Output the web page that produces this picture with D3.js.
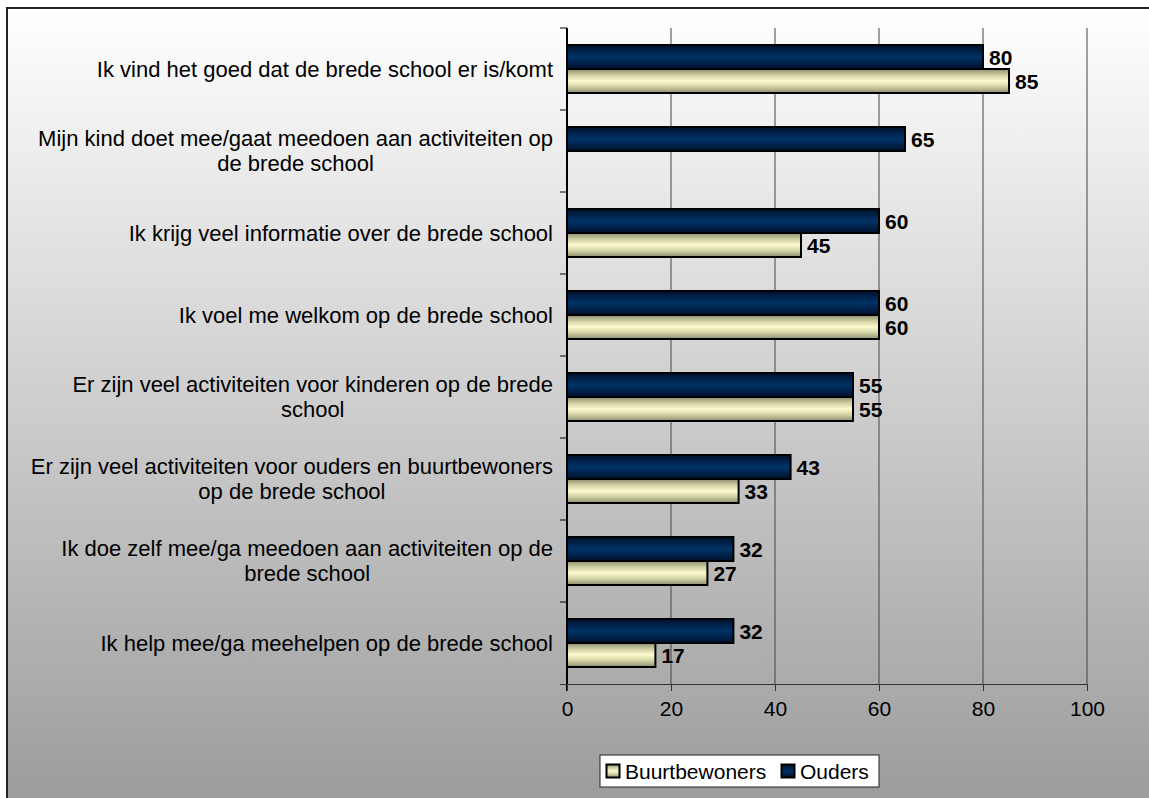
<!DOCTYPE html>
<html>
<head>
<meta charset="utf-8">
<script src="https://cdn.jsdelivr.net/npm/d3@7"></script>
<style>
  body { margin: 0; background: #fff; }
  svg text { font-family: Arial, "Liberation Sans", sans-serif; fill: #000; }
</style>
</head>
<body>
<div id="chart"></div>
<script>
var width = 1149,
    height = 798;

// data
var categories = [
  "Ik vind het goed dat de brede school er is/komt",
  "Mijn kind doet mee/gaat meedoen aan activiteiten op\nde brede school",
  "Ik krijg veel informatie over de brede school",
  "Ik voel me welkom op de brede school",
  "Er zijn veel activiteiten voor kinderen op de brede\nschool",
  "Er zijn veel activiteiten voor ouders en buurtbewoners\nop de brede school",
  "Ik doe zelf mee/ga meedoen aan activiteiten op de\nbrede school",
  "Ik help mee/ga meehelpen op de brede school"
];
var ouders = [80, 65, 60, 60, 55, 43, 32, 32];
var buurtbewoners = [85, null, 45, 60, 55, 33, 27, 17];
var seriesNames = ["Ouders", "Buurtbewoners"];
var legendOrder = ["Buurtbewoners", "Ouders"];
var xTicks = [0, 20, 40, 60, 80, 100];

var margin = {top: 28, left: 567, right: 62, bottom: 114};
var plotW = width - margin.left - margin.right,
    plotH = height - margin.top - margin.bottom;

var svg = d3.select("#chart").append("svg")
  .attr("width", width)
  .attr("height", height);

var defs = svg.append("defs");
var bg = defs.append("linearGradient").attr("id", "bgGrad")
  .attr("x1", 0).attr("y1", 0).attr("x2", 0).attr("y2", 1);
bg.append("stop").attr("offset", "0%").attr("stop-color", "#ffffff");
bg.append("stop").attr("offset", "100%").attr("stop-color", "#999999");

var navy = defs.append("linearGradient").attr("id", "navyGrad")
  .attr("x1", 0).attr("y1", 0).attr("x2", 0).attr("y2", 1);
[["0%", "#00112a"], ["30%", "#002550"], ["50%", "#003366"], ["70%", "#002550"], ["100%", "#00112a"]]
  .forEach(function(s) { navy.append("stop").attr("offset", s[0]).attr("stop-color", s[1]); });

var cream = defs.append("linearGradient").attr("id", "creamGrad")
  .attr("x1", 0).attr("y1", 0).attr("x2", 0).attr("y2", 1);
[["0%", "#8c8c6c"], ["25%", "#cfcfa4"], ["50%", "#fbfbcc"], ["75%", "#cfcfa4"], ["100%", "#8c8c6c"]]
  .forEach(function(s) { cream.append("stop").attr("offset", s[0]).attr("stop-color", s[1]); });

var fills = {"Ouders": "url(#navyGrad)", "Buurtbewoners": "url(#creamGrad)"};

// background + frame
svg.append("rect")
  .attr("x", 7).attr("y", 8)
  .attr("width", width + 20).attr("height", height + 20)
  .attr("fill", "url(#bgGrad)")
  .attr("stroke", "#222")
  .attr("stroke-width", 2);

// scales
var xScale = d3.scaleLinear().domain([0, 100]).range([0, plotW]);
var yScale = d3.scaleBand()
  .domain(d3.range(categories.length))
  .range([0, plotH])
  .paddingInner(34 / 82)
  .paddingOuter(17 / 82);
var ySub = d3.scaleBand()
  .domain(seriesNames)
  .range([0, yScale.bandwidth()]);
var step = yScale.step();

var g = svg.append("g")
  .attr("transform", "translate(" + margin.left + "," + margin.top + ")");

// gridlines
g.append("g").attr("class", "grid")
  .selectAll("line")
  .data(xTicks.filter(function(d) { return d > 0; }))
  .enter().append("line")
    .attr("x1", function(d) { return xScale(d); })
    .attr("x2", function(d) { return xScale(d); })
    .attr("y1", 0).attr("y2", plotH)
    .attr("stroke", "#444")
    .attr("stroke-width", 1);

// bars
var rows = categories.map(function(c, i) {
  return {i: i, values: [
    {key: "Ouders", value: ouders[i]},
    {key: "Buurtbewoners", value: buurtbewoners[i]}
  ]};
});

var groups = g.selectAll(".row")
  .data(rows)
  .enter().append("g")
    .attr("class", "row")
    .attr("transform", function(d) { return "translate(0," + yScale(d.i) + ")"; });

var bars = groups.selectAll(".bar")
  .data(function(d) { return d.values.filter(function(v) { return v.value != null; }); })
  .enter();

bars.append("rect")
  .attr("class", "bar")
  .attr("x", 0)
  .attr("y", function(d) { return ySub(d.key); })
  .attr("width", function(d) { return xScale(d.value); })
  .attr("height", ySub.bandwidth())
  .attr("fill", function(d) { return fills[d.key]; })
  .attr("stroke", "#000")
  .attr("stroke-width", 2);

bars.append("text")
  .attr("x", function(d) { return xScale(d.value) + 6; })
  .attr("y", function(d) { return ySub(d.key) + ySub.bandwidth() / 2; })
  .attr("dy", "0.36em")
  .style("font-size", "21px")
  .style("font-weight", "bold")
  .text(function(d) { return d.value; });

// category axis line + ticks at band boundaries
g.append("line")
  .attr("x1", 0).attr("x2", 0)
  .attr("y1", 0).attr("y2", plotH + 7)
  .attr("stroke", "#000").attr("stroke-width", 2);
g.append("g").selectAll("line")
  .data(d3.range(categories.length))
  .enter().append("line")
    .attr("x1", -7).attr("x2", 0)
    .attr("y1", function(d) { return yScale(d) - yScale.paddingOuter() * step; })
    .attr("y2", function(d) { return yScale(d) - yScale.paddingOuter() * step; })
    .attr("stroke", "#000").attr("stroke-width", 1);

// x axis
var xAxisCall = d3.axisBottom(xScale)
  .tickValues(xTicks)
  .tickSize(7)
  .tickPadding(10)
  .tickSizeOuter(0);
var xAxis = g.append("g")
  .attr("class", "x-axis")
  .attr("transform", "translate(0," + plotH + ")")
  .call(xAxisCall);
xAxis.select(".domain").attr("stroke", "#333").attr("d", "M-7,0.5H" + plotW);
xAxis.selectAll(".tick line").attr("stroke", "#333");
xAxis.selectAll(".tick text")
  .style("font-size", "21px")
  .style("font-family", "Arial, 'Liberation Sans', sans-serif")
  .attr("fill", "#000");

// category labels, wrapped lines centred on each other, block right aligned
var labelRight = -14;
var lineH = 25;
rows.forEach(function(r) {
  var lines = categories[r.i].split("\n");
  var cy = yScale(r.i) + yScale.bandwidth() / 2;
  var t = g.append("text")
    .style("font-size", "22px")
    .attr("text-anchor", "middle");
  var spans = lines.map(function(line, k) {
    return t.append("tspan")
      .attr("y", cy + (k - (lines.length - 1) / 2) * lineH)
      .attr("dy", "0.36em")
      .text(line);
  });
  var maxW = d3.max(spans, function(s) { return s.node().getComputedTextLength(); });
  spans.forEach(function(s) { s.attr("x", labelRight - maxW / 2); });
});

// legend
var legend = svg.append("g").attr("transform", "translate(600,755)");
legend.append("rect")
  .attr("width", 279).attr("height", 32)
  .attr("fill", "#fff")
  .attr("stroke", "#222").attr("stroke-width", 1);
var legendX = [6, 181];
legendOrder.forEach(function(name, i) {
  var item = legend.append("g").attr("transform", "translate(" + legendX[i] + ",0)");
  item.append("rect")
    .attr("x", 0.5).attr("y", 9.5)
    .attr("width", 13).attr("height", 13)
    .attr("fill", fills[name])
    .attr("stroke", "#000").attr("stroke-width", 2);
  item.append("text")
    .attr("x", 19).attr("y", 16)
    .attr("dy", "0.36em")
    .style("font-size", "21px")
    .text(name);
});
</script>
</body>
</html>
